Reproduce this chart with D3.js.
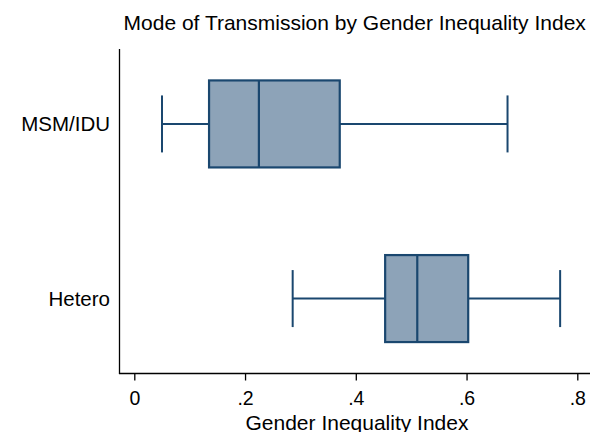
<!DOCTYPE html>
<html>
<head>
<meta charset="utf-8">
<script src="https://cdn.jsdelivr.net/npm/d3@7"></script>
<style>
  html, body { margin: 0; padding: 0; background: #fff; }
  svg { display: block; font-family: "Liberation Sans", Arial, Helvetica, sans-serif; }
</style>
</head>
<body>
<svg id="chart" width="592" height="432"></svg>
<script>
// ---- data ----
const categories = ["MSM/IDU", "Hetero"];
const whiskerLow  = [0.050, 0.286];
const q1          = [0.135, 0.453];
const median      = [0.225, 0.511];
const q3          = [0.371, 0.603];
const whiskerHigh = [0.674, 0.769];
const xTicks = [0, 0.2, 0.4, 0.6, 0.8];
const xTickLabels = ["0", ".2", ".4", ".6", ".8"];
const titleText = "Mode of Transmission by Gender Inequality Index";
const xTitleText = "Gender Inequality Index";

const rows = categories.map((c, i) => ({
  cat: c, lo: whiskerLow[i], q1: q1[i], med: median[i], q3: q3[i], hi: whiskerHigh[i]
}));

const svg = d3.select("#chart");
const W = 592, H = 432;
const plot = { left: 119.5, right: 590, top: 49, bottom: 373.5 };
const stroke = "#1a476f", fill = "#8da3b8";

const x = d3.scaleLinear().domain([0, 0.8]).range([134.3, 577.3]);
const y = d3.scalePoint().domain(categories).range([plot.top, plot.bottom]).padding(0.429);
const boxH = 87, capH = 57;

svg.append("rect").attr("width", W).attr("height", H).attr("fill", "#fff");

// axes
const xAxis = d3.axisBottom(x).tickValues(xTicks).tickFormat((d, i) => xTickLabels[i]).tickSize(7).tickSizeOuter(0);
const gx = svg.append("g").attr("transform", `translate(0,${plot.bottom})`).call(xAxis);
gx.select(".domain").remove();
gx.selectAll(".tick line").attr("stroke", "#000").attr("stroke-width", 1.3);
gx.selectAll(".tick text").attr("font-size", 19.5).attr("fill", "#000").attr("dy", null).attr("y", 31.5)
  .attr("font-family", "Liberation Sans, Arial, sans-serif");
svg.append("line").attr("x1", plot.left - 0.6).attr("x2", plot.right).attr("y1", plot.bottom).attr("y2", plot.bottom)
  .attr("stroke", "#000").attr("stroke-width", 1.3);

svg.append("line").attr("x1", plot.left).attr("x2", plot.left).attr("y1", plot.top).attr("y2", plot.bottom)
  .attr("stroke", "#000").attr("stroke-width", 1.3);

// y labels
svg.selectAll(".ylab").data(rows).join("text")
  .attr("class", "ylab")
  .attr("x", 110).attr("y", d => y(d.cat) + 7.5)
  .attr("text-anchor", "end").attr("font-size", 20.5).attr("fill", "#000")
  .text(d => d.cat);

// boxes
const g = svg.selectAll(".box").data(rows).join("g").attr("class", "box");
g.append("line").attr("x1", d => x(d.lo)).attr("x2", d => x(d.q1))
  .attr("y1", d => y(d.cat)).attr("y2", d => y(d.cat)).attr("stroke", stroke).attr("stroke-width", 2);
g.append("line").attr("x1", d => x(d.q3)).attr("x2", d => x(d.hi))
  .attr("y1", d => y(d.cat)).attr("y2", d => y(d.cat)).attr("stroke", stroke).attr("stroke-width", 2);
g.append("line").attr("x1", d => x(d.lo)).attr("x2", d => x(d.lo))
  .attr("y1", d => y(d.cat) - capH / 2).attr("y2", d => y(d.cat) + capH / 2).attr("stroke", stroke).attr("stroke-width", 2);
g.append("line").attr("x1", d => x(d.hi)).attr("x2", d => x(d.hi))
  .attr("y1", d => y(d.cat) - capH / 2).attr("y2", d => y(d.cat) + capH / 2).attr("stroke", stroke).attr("stroke-width", 2);
g.append("rect").attr("x", d => x(d.q1)).attr("width", d => x(d.q3) - x(d.q1))
  .attr("y", d => y(d.cat) - boxH / 2).attr("height", boxH)
  .attr("fill", fill).attr("stroke", stroke).attr("stroke-width", 2.2);
g.append("line").attr("x1", d => x(d.med)).attr("x2", d => x(d.med))
  .attr("y1", d => y(d.cat) - boxH / 2).attr("y2", d => y(d.cat) + boxH / 2).attr("stroke", stroke).attr("stroke-width", 2.2);

// titles
svg.append("text").attr("x", 354.7).attr("y", 30).attr("text-anchor", "middle")
  .attr("font-size", 21).attr("fill", "#000").text(titleText);
svg.append("text").attr("x", 357).attr("y", 429.5).attr("text-anchor", "middle")
  .attr("font-size", 21).attr("fill", "#000").text(xTitleText);
</script>
</body>
</html>
